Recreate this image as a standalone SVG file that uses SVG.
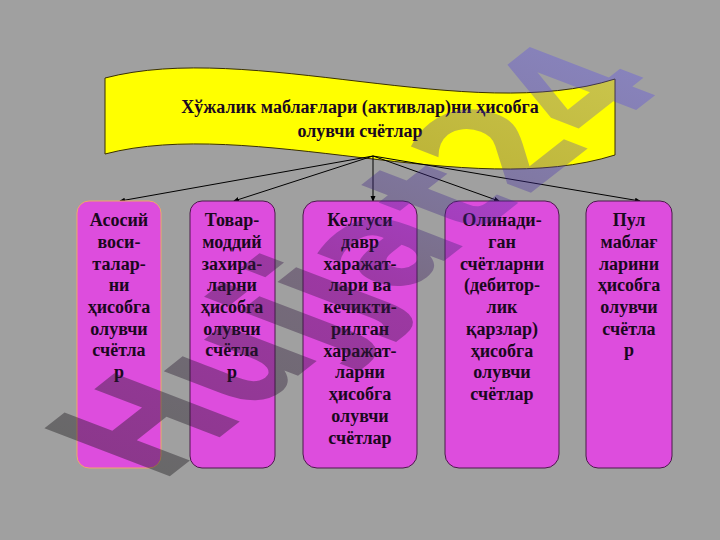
<svg xmlns="http://www.w3.org/2000/svg" width="720" height="540" viewBox="0 0 720 540">
<style>
.t{font-family:"Liberation Serif","DejaVu Serif",serif;font-weight:bold;font-size:18px;fill:#1a0820;text-anchor:middle}
.box{fill:#dd4ddd;stroke:#4a1a4a;stroke-width:1}
.conn{stroke:#000;stroke-width:1;fill:none;marker-end:url(#ah)}
.wm{font-family:"DejaVu Sans","Liberation Sans",sans-serif;font-weight:bold;font-size:100px;fill:url(#wg)}
</style>
<defs>
<marker id="ah" markerWidth="6" markerHeight="6" refX="5" refY="3" orient="auto" markerUnits="userSpaceOnUse">
<path d="M0,0.5 L6,3 L0,5.5 Z" fill="#000"/>
</marker>
<linearGradient id="wg" gradientUnits="userSpaceOnUse" x1="0" y1="0" x2="480" y2="0">
<stop offset="0" stop-color="#1a1a1a" stop-opacity="0.42"/>
<stop offset="0.45" stop-color="#3a1a4a" stop-opacity="0.4"/>
<stop offset="1" stop-color="#5040ff" stop-opacity="0.3"/>
</linearGradient>
</defs>
<rect x="0" y="0" width="720" height="540" fill="#a0a0a0"/>
<g id="banner">
<path d="M105,78 C250,40 470,125 615,79 L615,155 C470,201 250,116 105,154 Z" fill="#ffff00" stroke="#3a3000" stroke-width="1"/>
<text class="t" x="360" y="113">Хўжалик маблағлари (активлар)ни ҳисобга</text>
<text class="t" x="360" y="137">олувчи счётлар</text>
</g>
<g id="connectors">
<line class="conn" x1="373" y1="156" x2="120" y2="201"/>
<line class="conn" x1="373" y1="156" x2="234" y2="201"/>
<line class="conn" x1="373" y1="156" x2="373" y2="201"/>
<line class="conn" x1="373" y1="156" x2="499" y2="201"/>
<line class="conn" x1="373" y1="156" x2="640" y2="201"/>
</g>
<g id="node1">
<rect class="box" x="77" y="201" width="84" height="267" rx="12" style="stroke:#f0a868"/>
<text class="t" x="119" y="226">Асосий</text>
<text class="t" x="119" y="248">воси-</text>
<text class="t" x="119" y="270">талар-</text>
<text class="t" x="119" y="291">ни</text>
<text class="t" x="119" y="313">ҳисобга</text>
<text class="t" x="119" y="335">олувчи</text>
<text class="t" x="119" y="356">счётла</text>
<text class="t" x="119" y="378">р</text>
</g>
<g id="node2">
<rect class="box" x="190" y="201" width="85" height="267" rx="12"/>
<text class="t" x="232" y="226">Товар-</text>
<text class="t" x="232" y="248">моддий</text>
<text class="t" x="232" y="270">захира-</text>
<text class="t" x="232" y="291">ларни</text>
<text class="t" x="232" y="313">ҳисобга</text>
<text class="t" x="232" y="335">олувчи</text>
<text class="t" x="232" y="356">счётла</text>
<text class="t" x="232" y="378">р</text>
</g>
<g id="node3">
<rect class="box" x="303" y="201" width="114" height="267" rx="14"/>
<text class="t" x="360" y="226">Келгуси</text>
<text class="t" x="360" y="248">давр</text>
<text class="t" x="360" y="270">харажат-</text>
<text class="t" x="360" y="291">лари ва</text>
<text class="t" x="360" y="313">кечикти-</text>
<text class="t" x="360" y="335">рилган</text>
<text class="t" x="360" y="357">харажат-</text>
<text class="t" x="360" y="378">ларни</text>
<text class="t" x="360" y="400">ҳисобга</text>
<text class="t" x="360" y="422">олувчи</text>
<text class="t" x="360" y="444">счётлар</text>
</g>
<g id="node4">
<rect class="box" x="445" y="201" width="114" height="267" rx="14"/>
<text class="t" x="502" y="226">Олинади-</text>
<text class="t" x="502" y="248">ган</text>
<text class="t" x="502" y="270">счётларни</text>
<text class="t" x="502" y="291">(дебитор-</text>
<text class="t" x="502" y="313">лик</text>
<text class="t" x="502" y="335">қарзлар)</text>
<text class="t" x="502" y="357">ҳисобга</text>
<text class="t" x="502" y="378">олувчи</text>
<text class="t" x="502" y="400">счётлар</text>
</g>
<g id="node5">
<rect class="box" x="586" y="201" width="86" height="267" rx="12"/>
<text class="t" x="629" y="226">Пул</text>
<text class="t" x="629" y="248">маблағ</text>
<text class="t" x="629" y="270">ларини</text>
<text class="t" x="629" y="291">ҳисобга</text>
<text class="t" x="629" y="313">олувчи</text>
<text class="t" x="629" y="335">счётла</text>
<text class="t" x="629" y="356">р</text>
</g>
<g id="watermark">
<text class="wm" transform="matrix(1.07,-0.84,1.72,0.66,160,484)">Hujjat24</text>
</g>
</svg>
